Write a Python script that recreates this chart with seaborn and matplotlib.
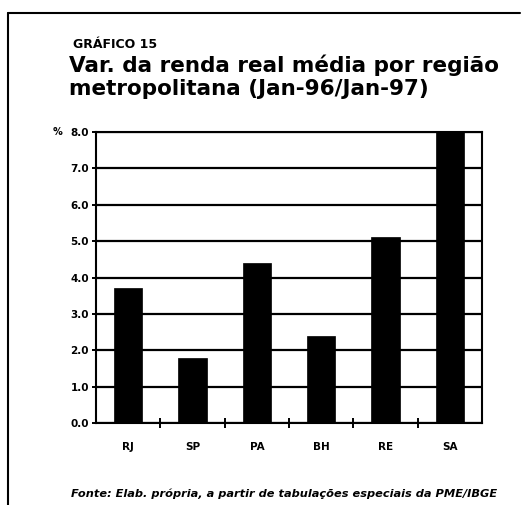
import numpy as np
import pandas as pd
import seaborn as sns
import matplotlib.pyplot as plt
from matplotlib.ticker import FixedLocator

regioes = ["RJ", "SP", "PA", "BH", "RE", "SA"]
variacao = [3.7, 1.8, 4.4, 2.4, 5.1, 8.0]
y_ticks = [0, 1, 2, 3, 4, 5, 6, 7, 8]

data = pd.DataFrame({"regiao": regioes, "variacao": variacao})

sns.set_theme(style="white")
plt.rcParams["font.family"] = ["DejaVu Sans"]
plt.rcParams["text.color"] = "black"
plt.rcParams["xtick.color"] = "black"
plt.rcParams["ytick.color"] = "black"

W, H = 528, 505
fig = plt.figure(figsize=(W / 100, H / 100), dpi=100)
ax = fig.add_axes([96 / W, 1 - 423 / H, 386 / W, 291 / H])

sns.barplot(x="regiao", y="variacao", data=data, color="black",
            width=0.44, saturation=1, ax=ax, zorder=3,
            edgecolor="black", linewidth=0.5)

ax.set_ylim(0, 8)
ax.set_xlim(-0.5, len(regioes) - 0.5)
ax.set_yticks(y_ticks)
ax.set_yticklabels([f"{v:.1f}" for v in y_ticks], fontsize=7.5, fontweight="bold")
ax.set_xticklabels(regioes, fontsize=7.5, fontweight="bold")
ax.tick_params(axis="x", length=0, pad=14, labelcolor="black")
ax.tick_params(axis="y", length=6, width=1.4, direction="inout", pad=2, left=True,
               labelcolor="black")
ax.xaxis.set_minor_locator(FixedLocator(np.arange(0.5, len(regioes) - 0.5, 1)))
ax.tick_params(axis="x", which="minor", length=7, width=1.4, direction="inout", bottom=True)
ax.yaxis.grid(True, color="black", linewidth=1.6, zorder=0)
ax.set_axisbelow(True)
for s in ax.spines.values():
    s.set_color("black")
    s.set_linewidth(1.5)
ax.set_xlabel("")
ax.set_ylabel("")

fig.text(62 / W, 1 - 132 / H, "%", fontsize=7, fontweight="bold", ha="right", va="center")

fig.text(73 / W, 1 - 48 / H, "GRÁFICO 15", fontsize=9, fontweight="bold", va="baseline")
fig.text(69 / W, 1 - 72 / H, "Var. da renda real média por região", fontsize=15.5,
         fontweight="bold", va="baseline")
fig.text(69 / W, 1 - 95 / H, "metropolitana (Jan-96/Jan-97)", fontsize=15.5,
         fontweight="bold", va="baseline")
fig.text(71 / W, 1 - 497 / H,
         "Fonte: Elab. própria, a partir de tabulações especiais da PME/IBGE",
         fontsize=8.2, fontweight="bold", fontstyle="italic", va="baseline")

# moldura
fig.add_artist(plt.Line2D([8 / W, 520 / W], [1 - 13 / H, 1 - 13 / H],
                          color="black", linewidth=1.5))
fig.add_artist(plt.Line2D([8 / W, 8 / W], [1 - 13 / H, 0],
                          color="black", linewidth=1.5))

fig.savefig("out.png", dpi=100)
